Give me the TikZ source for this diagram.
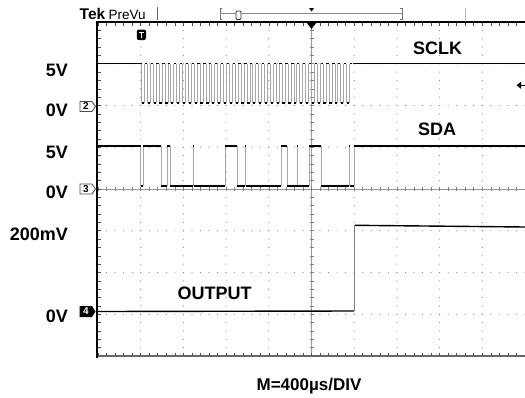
\documentclass[tikz,border=0pt]{standalone}
\usepackage{fontspec}
\setmainfont{Liberation Sans}
\begin{document}
\begin{tikzpicture}[x=1pt,y=-1pt,
  trace/.style={black,line width=1.4pt},
  edgeln/.style={black!35,line width=0.7pt},
  frame/.style={black,line width=2.4pt},
  tick/.style={black!70,line width=0.6pt},
  gdot/.style={black!45},
  lbl/.style={font=\fontsize{18}{20}\selectfont\bfseries,inner sep=0pt},
  chm/.style={font=\fontsize{10}{11}\selectfont\bfseries,inner sep=0pt}]
\useasboundingbox (0,0) rectangle (525,397);
\fill[white] (0,0) rectangle (525,397);
% grid dots
\foreach \i in {1,2,3,4,6,7,8,9}{
  \foreach \m in {0,...,40}{
    \fill[gdot] ({98+42.7*\i},{22+8.35*\m}) circle[radius=0.6pt];
  }
}
\foreach \j in {1,2,3,5,6,7}{
  \foreach \n in {0,...,50}{
    \fill[gdot] ({98+8.54*\n},{22+41.75*\j}) circle[radius=0.6pt];
  }
}
% center lines with ticks
\draw[black!40,line width=0.5pt] (311.5,22) -- (311.5,356);
\draw[black!40,line width=0.5pt] (97,189) -- (525,189);
\foreach \m in {0,...,40}{
  \draw[tick,black!50] (309.5,{22+8.35*\m}) -- (313.5,{22+8.35*\m});
}
\foreach \n in {0,...,50}{
  \draw[tick,black!50] ({98+8.54*\n},187) -- ({98+8.54*\n},191);
}
% frame ticks
\foreach \n in {0,...,50}{
  \draw[tick] ({98+8.54*\n},22) -- ({98+8.54*\n},25.5);
  \draw[tick] ({98+8.54*\n},356) -- ({98+8.54*\n},352.5);
}
\foreach \m in {0,...,40}{
  \draw[tick] (97,{22+8.35*\m}) -- (101,{22+8.35*\m});
}
% frame
\draw[black!60,line width=1.4pt] (97,356) -- (525,356);
\draw[frame] (97,358) -- (97,21);
\draw[black,line width=1.8pt] (96,22) -- (525,22);
\fill[black] (306.5,22.5) -- (316.5,22.5) -- (311.5,29) -- cycle;
% top bar
\node[font=\fontsize{15.5}{16}\selectfont\bfseries,inner sep=0pt,anchor=base west] (tek) at (79.5,19.5) {Tek};
\node[font=\fontsize{13.5}{15}\selectfont,inner sep=0pt,anchor=base west] (prevu) at (108.5,19.5) {PreVu};
\draw[black!60,line width=1pt] (157,7) -- (157,20);
\draw[black!55,line width=0.8pt] (222,8) -- (220,8) -- (220,19.5) -- (222,19.5);
\draw[black!55,line width=0.8pt] (400,8) -- (402,8) -- (402,19.5) -- (400,19.5);
\draw[black!45,line width=1.6pt] (220,14) -- (402,14);
\draw[white,line width=0.5pt] (220.5,14) -- (401.5,14);
\filldraw[fill=white,draw=black!80,line width=0.9pt,rounded corners=1pt] (236,11) rectangle (241,19.5);
\fill[black] (309,8) -- (314,8) -- (311.5,11.5) -- cycle;
\draw[black!30,line width=1pt] (465,8) -- (465,20);
% trigger marker
\fill[black,rounded corners=2pt] (136.8,29.5) rectangle (146,40);
\draw[white,line width=1.2pt] (138.8,32.5) -- (144,32.5) (141.4,32.5) -- (141.4,38);
% right arrow
\fill[black] (516.5,85.3) -- (521,81.8) -- (521,88.8) -- cycle;
\draw[black,line width=1.5pt] (520,85.3) -- (525,85.3);
% channel markers
\filldraw[fill=white,draw=black!70,line width=0.8pt] (80,101.5) -- (92,101.5) -- (95.5,106.5) -- (92,111.5) -- (80,111.5) -- cycle;
\node[chm] (c2) at (86,106.5) {2};
\filldraw[fill=white,draw=black!70,line width=0.8pt] (80,184) -- (92,184) -- (95.5,189) -- (92,194) -- (80,194) -- cycle;
\node[chm] (c3) at (86,189) {3};
\fill[black] (79.5,306) -- (92,306) -- (95.5,311.5) -- (92,317) -- (79.5,317) -- cycle;
\node[chm,text=white] (c4) at (86,311.5) {4};
% SCLK
\draw[trace] (98,63.5) -- (141.5,63.5);
\foreach \k [evaluate=\k as \xa using 141.5+5.86*\k] in {0,...,35}{
  \draw[edgeln] (\xa,63.5) -- (\xa,102.5);
  \draw[edgeln] ({\xa+2.93},63.5) -- ({\xa+2.93},102.5);
  \draw[trace] ({\xa+0.3},102.8) -- ({\xa+2.6},102.8);
  \draw[trace] ({\xa+3.2},63.5) -- ({\xa+5.5},63.5);
}
\draw[trace] (352.5,63.5) -- (525,63.5);
% SDA
\foreach \x in {140.5,143,161,167,170,193.3,225,237,245.5,281,287,297,309,321,349.5,354}{
  \draw[edgeln] (\x,146) -- (\x,186);
}
\foreach \a/\b in {98/140.5,143/161,167/170,225/237,281/287,309/321,354/525}{
  \draw[trace] (\a,146) -- (\b,146);
}
\foreach \x in {193.3,245.5,297,349.5}{
  \draw[trace] ({\x-0.4},146) -- ({\x+0.9},146);
}
\foreach \a/\b in {140.5/143,161/167,170/193.3,193.3/225,237/245.5,245.5/281,287/297,297/309,321/349.5,349.5/354}{
  \draw[trace] ({\a+0.4},186) -- ({\b-0.4},186);
}
% OUTPUT
\draw[trace] (98,311.5) -- (354,311);
\draw[edgeln,black!50] (354,311) -- (354,225.5);
\draw[trace] (354.5,225.3) -- (525,227);
% labels
\node[lbl,anchor=east] (l1) at (68,70) {5V};
\node[lbl,anchor=east] (l2) at (68,110) {0V};
\node[lbl,anchor=east] (l3) at (68,152) {5V};
\node[lbl,anchor=east] (l4) at (68,192.5) {0V};
\node[lbl,anchor=east] (l5) at (68,234) {200mV};
\node[lbl,anchor=east] (l6) at (68,316) {0V};
\node[lbl] (sclk) at (437.5,48.5) {SCLK};
\node[lbl] (sda) at (437,129) {SDA};
\node[lbl] (out) at (214.5,293.3) {OUTPUT};
\node[lbl,font=\fontsize{17}{19}\selectfont\bfseries,anchor=base] (mdiv) at (309,390) {M=400µs/DIV};
\end{tikzpicture}
\end{document}
